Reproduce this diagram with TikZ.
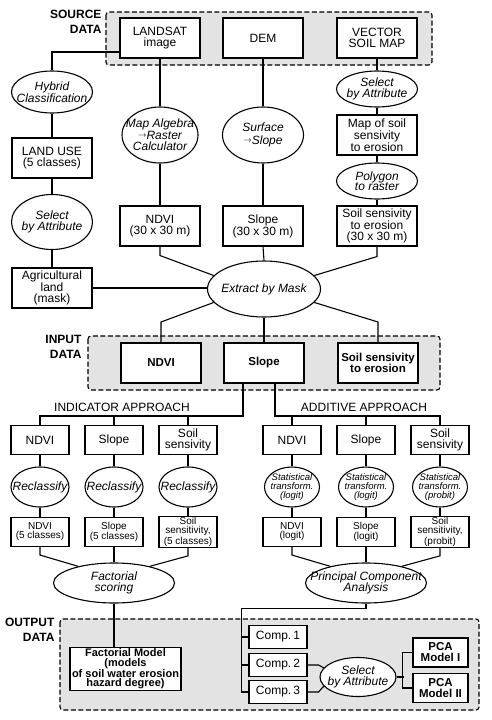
\documentclass[tikz,border=0pt]{standalone}
\usepackage{fontspec}
\setmainfont{Liberation Sans}
\usetikzlibrary{shapes.geometric}
\newcommand{\toolarrow}{\raisebox{.18em}{$\scriptstyle\rightarrow$}}

\begin{document}
\begin{tikzpicture}[x=1pt, y=-1pt, line width=1.1pt,
    every node/.style={font=\fontsize{12}{10.5}\selectfont, align=center, inner sep=1pt},
    databox/.style={draw, fill=white, minimum width=80, minimum height=40},
    smallbox/.style={draw, fill=white, minimum width=58, minimum height=29},
    tooloval/.style={draw, fill=white, ellipse, inner sep=-25pt, font=\fontsize{12}{11.5}\selectfont\itshape},
    statoval/.style={tooloval, font=\fontsize{9.5}{9}\selectfont\itshape},
    smalltext/.style={font=\fontsize{10}{9}\selectfont},
    inbox/.style={databox, font=\fontsize{11.5}{11}\selectfont\bfseries},
    outbox/.style={draw, fill=white, font=\fontsize{11.5}{11}\selectfont\bfseries},
    panel/.style={draw, fill=gray!22, dash pattern=on 5pt off 2.5pt, rounded corners=3pt},
    paneltitle/.style={anchor=east, align=right, font=\fontsize{12}{14.5}\selectfont\bfseries}
  ]
  \useasboundingbox (0,0) rectangle (491,720);

  % panels
  \draw[panel] (106,12) rectangle (432,65);
  \draw[panel] (88,336) rectangle (440,390);
  \draw[panel] (60,619) rectangle (479,710);
  \node[paneltitle] (srctitle) at (103,22) {SOURCE\\DATA};
  \node[paneltitle] (intitle) at (83,347) {INPUT\\DATA};
  \node[paneltitle] (outtitle) at (56,630) {OUTPUT\\DATA};

  % source data and preprocessing
  \node[databox] (landsat) at (160,38) {LANDSAT\\image};
  \node[databox] (dem) at (263,38) {DEM};
  \node[databox] (vector) at (377,38) {VECTOR\\SOIL MAP};
  \node[tooloval, minimum width=81, minimum height=42] (hybrid) at (52,92) {Hybrid\\Classification};
  \node[databox] (landuse) at (52,158) {LAND USE\\(5 classes)};
  \node[tooloval, minimum width=81, minimum height=55] (selleft) at (52,222) {Select\\by Attribute};
  \node[databox] (agri) at (52,288) {Agricultural\\land\\(mask)};
  \node[tooloval, minimum width=76, minimum height=56] (mapalg) at (160,135) {Map Algebra\\\toolarrow Raster\\Calculator};
  \node[databox] (ndvi30) at (160,226) {NDVI\\(30 x 30 m)};
  \node[tooloval, minimum width=81, minimum height=56, font=\fontsize{12}{13}\selectfont\itshape] (surface) at (263,135) {Surface\\\toolarrow Slope};
  \node[databox] (slope30) at (263,226) {Slope\\(30 x 30 m)};
  \node[tooloval, minimum width=81, minimum height=36, font=\fontsize{12}{10.5}\selectfont\itshape] (selright) at (377,89) {Select\\by Attribute};
  \node[databox] (soilmap) at (377,135) {Map of soil\\sensivity\\to erosion};
  \node[tooloval, minimum width=81, minimum height=36, font=\fontsize{12}{10.5}\selectfont\itshape] (poly) at (377,181) {Polygon\\to raster};
  \node[databox] (soil30) at (377,226) {Soil sensivity\\to erosion\\(30 x 30 m)};
  \node[tooloval, minimum width=113, minimum height=56] (extract) at (264,289) {Extract by Mask};

  \draw ([yshift=-14pt]landsat.west) -| (hybrid.north);
  \draw (hybrid.south) -- (landuse.north);
  \draw (landuse.south) -- (selleft.north);
  \draw (selleft.south) -- (agri.north);
  \draw (landsat.south) -- (mapalg.north);
  \draw (mapalg.south) -- (ndvi30.north);
  \draw (dem.south) -- (surface.north);
  \draw (surface.south) -- (slope30.north);
  \draw (vector.south) -- (selright.north);
  \draw (selright.south) -- (soilmap.north);
  \draw (soilmap.south) -- (poly.north);
  \draw (poly.south) -- (soil30.north);
  \draw (ndvi30.south) -- ++(0,9) -- (extract.165);
  \draw (slope30.south) -- (extract.north);
  \draw (soil30.south) -- ++(0,10) -- (extract.15);
  \draw (agri.east) -- (agri.east -| extract.west);

  % input data
  \node[inbox] (ndviin) at (161,363) {NDVI};
  \node[inbox] (slopein) at (264,363) {Slope};
  \node[inbox] (soilin) at (378,363) {Soil sensivity\\to erosion};
  \draw (extract.195) -- (ndviin.north |- 0,322) -- (ndviin.north);
  \draw (extract.south) -- (slopein.north);
  \draw (extract.345) -- (soilin.north |- 0,322) -- (soilin.north);

  % indicator approach
  \node (indlabel) at (122,407.5) {INDICATOR APPROACH};
  \node[smallbox] (indndvi) at (40,440) {NDVI};
  \node[smallbox] (indslope) at (114,440) {Slope};
  \node[smallbox] (indsoil) at (188,440) {Soil\\sensivity};
  \node[tooloval, minimum width=58, minimum height=40] (indrecl1) at (40,487) {Reclassify};
  \node[tooloval, minimum width=58, minimum height=40] (indrecl2) at (114,487) {Reclassify};
  \node[tooloval, minimum width=58, minimum height=40] (indrecl3) at (188,487) {Reclassify};
  \node[smallbox, smalltext] (indndvicl) at (40,532) {NDVI\\(5 classes)};
  \node[smallbox, smalltext] (indslopecl) at (114,532) {Slope\\(5 classes)};
  \node[smallbox, smalltext] (indsoilcl) at (188,532) {Soil\\sensitivity,\\(5 classes)};
  \node[tooloval, minimum width=121, minimum height=40] (factorial) at (114,583) {Factorial\\scoring};

  \draw ([xshift=-21pt]slopein.south) |- (indndvi.north |- 0,416) -- (indndvi.north);
  \draw (indslope.north |- 0,416) -- (indslope.north);
  \draw (indsoil.north |- 0,416) -- (indsoil.north);
  \draw (indndvi.south) -- (indrecl1.north);
  \draw (indslope.south) -- (indrecl2.north);
  \draw (indsoil.south) -- (indrecl3.north);
  \draw (indrecl1.south) -- (indndvicl.north);
  \draw (indrecl2.south) -- (indslopecl.north);
  \draw (indrecl3.south) -- (indsoilcl.north);
  \draw (indndvicl.south) -- ++(0,8) -- (factorial.155);
  \draw (indslopecl.south) -- (factorial.north);
  \draw (indsoilcl.south) -- ++(0,8) -- (factorial.25);

  % additive approach
  \node (addlabel) at (364,407.5) {ADDITIVE APPROACH};
  \node[smallbox] (addndvi) at (292,440) {NDVI};
  \node[smallbox] (addslope) at (366,440) {Slope};
  \node[smallbox] (addsoil) at (440,440) {Soil\\sensivity};
  \node[statoval, minimum width=55, minimum height=40] (addstat1) at (292,487) {Statistical\\transform.\\(logit)};
  \node[statoval, minimum width=55, minimum height=40] (addstat2) at (366,487) {Statistical\\transform.\\(logit)};
  \node[statoval, minimum width=55, minimum height=40] (addstat3) at (440,487) {Statistical\\transform.\\(probit)};
  \node[smallbox, smalltext] (addndvilg) at (292,532) {NDVI\\(logit)};
  \node[smallbox, smalltext] (addslopelg) at (366,532) {Slope\\(logit)};
  \node[smallbox, smalltext] (addsoilpb) at (440,532) {Soil\\sensitivity,\\(probit)};
  \node[tooloval, minimum width=121, minimum height=40] (pca) at (366,583) {Principal Component\\Analysis};

  \draw ([xshift=11pt]slopein.south) |- (addsoil.north |- 0,416) -- (addsoil.north);
  \draw (addndvi.north |- 0,416) -- (addndvi.north);
  \draw (addslope.north |- 0,416) -- (addslope.north);
  \draw (addndvi.south) -- (addstat1.north);
  \draw (addslope.south) -- (addstat2.north);
  \draw (addsoil.south) -- (addstat3.north);
  \draw (addstat1.south) -- (addndvilg.north);
  \draw (addstat2.south) -- (addslopelg.north);
  \draw (addstat3.south) -- (addsoilpb.north);
  \draw (addndvilg.south) -- ++(0,8) -- (pca.155);
  \draw (addslopelg.south) -- (pca.north);
  \draw (addsoilpb.south) -- ++(0,8) -- (pca.25);

  % output data
  \node[outbox, minimum width=111, minimum height=42, font=\fontsize{11}{9.5}\selectfont\bfseries] (factmodel) at (125.5,669) {Factorial Model\\(models\\of soil water erosion\\hazard degree)};
  \draw (factorial.south) -- (factorial.south |- factmodel.north);

  \node[smallbox, minimum height=23] (comp1) at (278,637) {Comp.\,1};
  \node[smallbox, minimum height=23] (comp2) at (278,665) {Comp.\,2};
  \node[smallbox, minimum height=23] (comp3) at (278,692) {Comp.\,3};
  \node[tooloval, minimum width=76, minimum height=39, font=\fontsize{12}{10.5}\selectfont\itshape] (selbottom) at (358,677) {Select\\by Attribute};
  \node[outbox, minimum width=55, minimum height=29] (pcamod1) at (440.5,652.5) {PCA\\Model I};
  \node[outbox, minimum width=55, minimum height=29] (pcamod2) at (440.5,688) {PCA\\Model II};

  \draw (pca.south) -- ++(0,5) -| ([xshift=-7pt]comp3.west) -- (comp3.west);
  \draw ([xshift=-7pt]comp1.west) -- (comp1.west);
  \draw ([xshift=-7pt]comp2.west) -- (comp2.west);
  \draw (comp2.east) -- ++(11,0) -- (selbottom.165);
  \draw (comp3.east) -- ++(11,0) -- (selbottom.195);
  \draw (selbottom.east) -- ++(7,0);
  \draw (pcamod1.west) -- ++(-10,0) |- (pcamod2.west);
\end{tikzpicture}
\end{document}
